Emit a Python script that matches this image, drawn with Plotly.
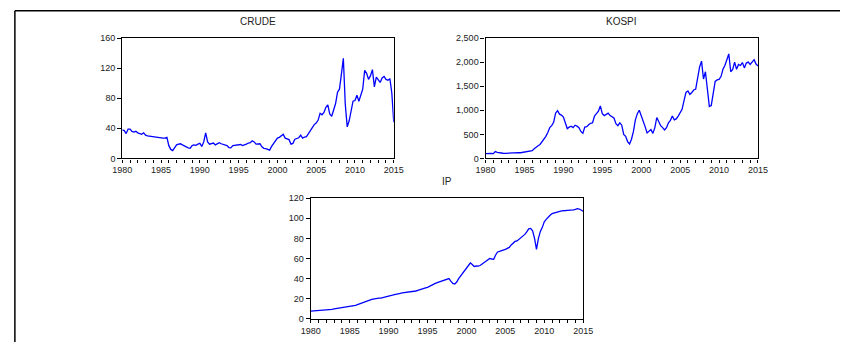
import plotly.graph_objects as go

# ---------------- data (quarterly readings, start 1980Q1) ----------------
start_year = 1980
crude = [38, 37, 33, 39,
         39, 36, 35, 36,
         34, 33, 32, 34,
         31, 30, 29.5, 30,
         29.5, 29, 28.5, 28,
         27, 27, 27, 28,
         17, 12, 10.5, 15,
         18, 19, 19.5, 18,
         16.5, 16, 14, 13.5,
         17, 18, 17.5, 19,
         20, 16, 22, 34,
         22, 19, 20, 20.5,
         18, 20, 21, 19.5,
         19, 18.5, 17, 14.5,
         14, 17, 17.5, 17,
         17.5, 18.5, 17, 17.5,
         19, 20.5, 21, 23.5,
         22, 19, 19.5, 19.5,
         15.5, 13.5, 13, 12.5,
         11, 16, 20, 24,
         27, 28, 30, 32,
         27, 26.5, 25, 19,
         20, 25.5, 27, 27.5,
         31, 27, 28.5, 29,
         33, 37, 41, 45,
         47, 51, 60, 58,
         61, 68, 71, 59,
         56, 64, 73, 88,
         92, 112, 133, 72,
         42, 50, 65, 76,
         77, 84, 76, 83,
         92, 117, 113, 105,
         110, 118, 95, 108,
         105, 101, 107, 109,
         105, 104, 106, 87,
         48]

kospi = [100, 105, 110, 105,
         100, 145, 125, 115,
         110, 108, 106, 110,
         112, 110, 108, 112,
         115, 122, 118, 125,
         135, 135, 138, 142,
         160, 200, 240, 265,
         290, 340, 400, 460,
         540, 640, 680, 750,
         940, 990, 920, 900,
         860, 720, 620, 650,
         670, 640, 690, 670,
         640, 560, 520, 650,
         660, 700, 730, 740,
         880, 930, 980, 1090,
         930, 890, 920, 940,
         890, 870, 840, 720,
         680, 740, 690, 500,
         460, 350, 300, 400,
         560, 800, 930, 1000,
         900, 780, 660, 530,
         560, 600, 520, 640,
         850, 760, 680, 640,
         590, 640, 740, 790,
         880, 800, 820, 880,
         960, 1020, 1200, 1370,
         1400, 1330, 1370, 1420,
         1440, 1720, 1900, 2020,
         1650, 1800, 1450, 1080,
         1100, 1380, 1600, 1630,
         1640, 1700, 1850, 1930,
         2050, 2170, 1800, 1850,
         2000, 1850, 1950, 1930,
         1990, 1880, 1980, 2000,
         1950, 1990, 2050, 1960,
         1920]

ip = [7.5, 7.6, 7.8, 8.0,
      8.2, 8.4, 8.6, 8.8,
      8.6, 8.8, 9.0, 9.3,
      9.7, 10.0, 10.3, 10.8,
      11.2, 11.5, 11.8, 12.0,
      12.1, 12.2, 12.6, 13.2,
      14.0, 14.8, 15.5, 16.3,
      17.0, 17.5, 18.3, 19.0,
      19.6, 20.0, 20.2, 20.5,
      20.4, 20.8, 21.5, 22.0,
      22.3, 22.8, 23.4, 24.0,
      24.2, 24.8, 25.2, 25.8,
      26.0, 26.3, 26.5, 26.8,
      27.0, 27.3, 27.6, 28.2,
      28.6, 29.2, 30.0, 30.6,
      31.2, 32.3, 33.6, 34.6,
      35.2, 36.0, 36.6, 37.2,
      37.6, 38.3, 39.4, 40.0,
      37.5, 35.2, 34.5, 36.5,
      39.9, 42.5, 45.0, 48.0,
      51.0, 52.5, 55.5, 54.0,
      52.0, 52.5, 52.3, 53.0,
      54.5, 56.0, 57.5, 58.5,
      60.0, 59.5, 59.3, 63.5,
      66.5, 67.0, 67.5, 68.5,
      69.0, 70.0, 71.0, 73.5,
      75.5, 77.0, 77.5, 79.0,
      80.5, 82.0, 84.0, 86.5,
      89.5, 90.0, 87.5, 80.0,
      69.0, 80.0, 87.0, 91.0,
      96.5, 99.0, 101.5, 103.0,
      104.8, 105.5, 106.4, 106.8,
      107.0, 107.5, 107.3, 107.8,
      108.0, 108.0, 108.3, 108.5,
      109.0, 109.6, 109.3, 108.5,
      107.0]

titles = ["CRUDE", "KOSPI", "IP"]
y_ranges = [[0, 160], [0, 2500], [0, 120]]
y_dticks = [40, 500, 20]
x_tick_years = [1980, 1985, 1990, 1995, 2000, 2005, 2010, 2015]


def years(n):
    return [start_year + i / 4 for i in range(n)]


W, H = 850, 347
# plot areas in pixels: (left, right, top, bottom)
boxes = [(115, 393, 34, 158), (487, 766, 34, 158), (308, 587, 199, 323)]

fig = go.Figure()
series = [crude, kospi, ip]
FONT = "Liberation Sans, Arial, sans-serif"

for k, (vals, box) in enumerate(zip(series, boxes)):
    suffix = "" if k == 0 else str(k + 1)
    fig.add_trace(go.Scatter(x=years(len(vals)), y=vals, mode="lines",
                             line=dict(color="#0000FF", width=1.3),
                             xaxis="x" + suffix, yaxis="y" + suffix,
                             showlegend=False, hoverinfo="skip"))
    l, r, t, b = box
    xdom = [l / W, r / W]
    ydom = [1 - b / H, 1 - t / H]
    fig.update_layout(**{
        "xaxis" + suffix: dict(domain=xdom, range=[1980, 2015],
                               anchor="y" + suffix,
                               tickvals=x_tick_years,
                               ticktext=[str(v) for v in x_tick_years],
                               ticks="outside", ticklen=3, tickwidth=1, tickcolor="black",
                               minor=dict(dtick=1, tick0=1980, ticks="outside", ticklen=3,
                                          tickcolor="black", showgrid=False),
                               showline=True, linecolor="black", linewidth=1.2, mirror=True,
                               showgrid=False, zeroline=False,
                               tickfont=dict(family=FONT, size=9, color="#222")),
        "yaxis" + suffix: dict(domain=ydom, range=y_ranges[k], dtick=y_dticks[k],
                               anchor="x" + suffix,
                               tickformat=",d",
                               ticks="outside", ticklen=4, tickwidth=1, tickcolor="black",
                               showline=True, linecolor="black", linewidth=1.2, mirror=True,
                               showgrid=False, zeroline=False,
                               tickfont=dict(family=FONT, size=9, color="#222")),
    })
    fig.add_annotation(text=titles[k], x=(l + r) / 2 / W, y=1 - (t - 17) / H,
                       xref="paper", yref="paper", showarrow=False,
                       xanchor="center", yanchor="middle",
                       font=dict(family=FONT, size=10, color="#222"))

# outer frame (top and left edges)
fig.add_shape(type="line", xref="paper", yref="paper", x0=5 / W, x1=1, y0=1 - 6 / H, y1=1 - 6 / H,
              line=dict(color="black", width=1.5))
fig.add_shape(type="line", xref="paper", yref="paper", x0=5 / W, x1=5 / W, y0=0, y1=1 - 6 / H,
              line=dict(color="black", width=1.5))

fig.update_layout(width=W, height=H, margin=dict(l=0, r=0, t=0, b=0),
                  paper_bgcolor="white", plot_bgcolor="white")

fig.write_html("out.html", config={"displayModeBar": False},
               post_script="document.body.style.margin='0';document.body.style.overflow='hidden';")
